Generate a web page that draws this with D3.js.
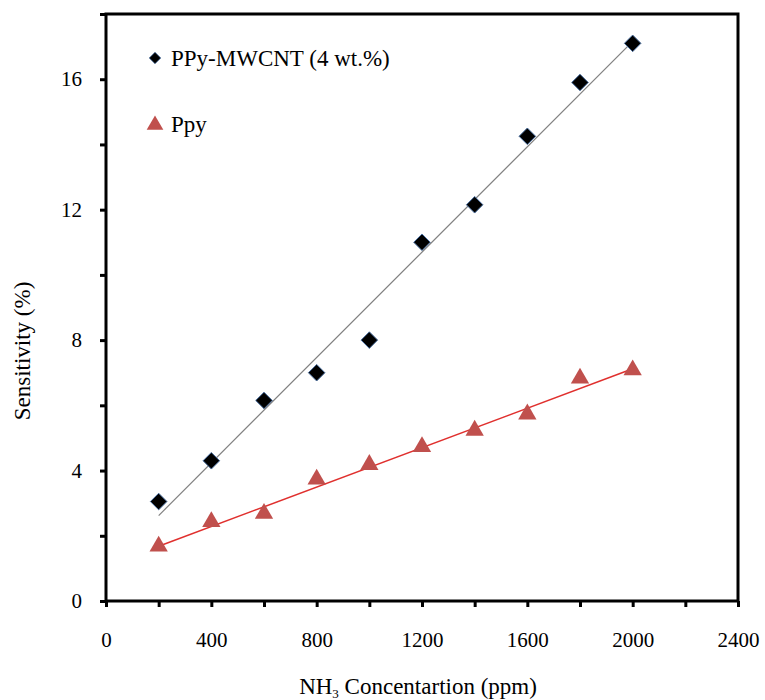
<!DOCTYPE html>
<html>
<head>
<meta charset="utf-8">
<script src="https://cdn.jsdelivr.net/npm/d3@7"></script>
<style>
  html, body { margin: 0; padding: 0; background: #fff; }
  svg text { font-family: "Liberation Serif", "DejaVu Serif", serif; fill: #000; }
</style>
</head>
<body>
<svg id="chart" width="765" height="700"></svg>
<script>
// NH3 concentration (ppm)
const concentrations = [200, 400, 600, 800, 1000, 1200, 1400, 1600, 1800, 2000];
// Sensitivity (%) for each film
const compositeSensitivity = [3.05, 4.3, 6.15, 7.0, 8.0, 11.0, 12.15, 14.25, 15.9, 17.1];
const ppySensitivity = [1.65, 2.4, 2.65, 3.7, 4.15, 4.7, 5.2, 5.7, 6.8, 7.05];
const seriesNames = ["PPy-MWCNT (4 wt.%)", "Ppy"];
const xTickValues = [0, 400, 800, 1200, 1600, 2000, 2400];
const yTickValues = [0, 4, 8, 12, 16];

const serif = "Liberation Serif, DejaVu Serif, serif";
const svg = d3.select("#chart");
const plotLeft = 106, plotRight = 738, plotTop = 14, plotBottom = 601;

const x = d3.scaleLinear().domain([0, 2400]).range([plotLeft, plotRight]);
const y = d3.scaleLinear().domain([0, 18]).range([plotBottom, plotTop]);

// Least-squares fit for each series' trend line
function fit(xs, ys) {
  const mx = d3.mean(xs), my = d3.mean(ys);
  let sxy = 0, sxx = 0;
  xs.forEach((v, i) => { sxy += (v - mx) * (ys[i] - my); sxx += (v - mx) * (v - mx); });
  const slope = sxy / sxx;
  return v => my + slope * (v - mx);
}

// Minor tick marks (every 200 ppm / every 2 %)
svg.append("g")
  .attr("transform", `translate(0,${plotBottom})`)
  .call(d3.axisBottom(x).tickValues(d3.range(0, 2401, 200)).tickSize(6).tickFormat(""))
  .call(a => a.select(".domain").remove())
  .call(a => a.selectAll("line").attr("stroke-width", 3));
svg.append("g")
  .attr("transform", `translate(${plotLeft},0)`)
  .call(d3.axisLeft(y).tickValues(d3.range(0, 18.1, 2)).tickSize(6).tickFormat(""))
  .call(a => a.select(".domain").remove())
  .call(a => a.selectAll("line").attr("stroke-width", 3));

// Labelled ticks
svg.append("g")
  .attr("transform", `translate(0,${plotBottom})`)
  .attr("font-family", serif)
  .call(d3.axisBottom(x).tickValues(xTickValues).tickSize(0).tickPadding(31).tickFormat(d3.format("d")))
  .call(a => a.select(".domain").remove())
  .call(a => a.selectAll("text").attr("font-size", 21).attr("font-family", serif));
svg.append("g")
  .attr("transform", `translate(${plotLeft},0)`)
  .attr("font-family", serif)
  .call(d3.axisLeft(y).tickValues(yTickValues).tickSize(0).tickPadding(24).tickFormat(d3.format("d")))
  .call(a => a.select(".domain").remove())
  .call(a => a.selectAll("text").attr("font-size", 21).attr("font-family", serif));

// Frame
svg.append("rect")
  .attr("x", plotLeft).attr("y", plotTop)
  .attr("width", plotRight - plotLeft).attr("height", plotBottom - plotTop)
  .attr("fill", "none").attr("stroke", "#000").attr("stroke-width", 3);

// Axis titles
const xt = svg.append("text")
  .attr("x", 418).attr("y", 694)
  .attr("text-anchor", "middle").attr("font-size", 23).attr("font-family", serif);
xt.append("tspan").text("NH");
xt.append("tspan").attr("font-size", 13).attr("dy", 4).text("3");
xt.append("tspan").attr("dy", -4).text(" Concentartion (ppm)");

svg.append("text")
  .attr("transform", "translate(30,351) rotate(-90)")
  .attr("text-anchor", "middle").attr("font-size", 23).attr("font-family", serif)
  .text("Sensitivity (%)");

// Trend lines
const xs0 = concentrations[0], xs1 = concentrations[concentrations.length - 1];
const f1 = fit(concentrations, compositeSensitivity);
const f2 = fit(concentrations, ppySensitivity);
svg.append("line")
  .attr("x1", x(xs0)).attr("y1", y(f1(xs0)))
  .attr("x2", x(xs1)).attr("y2", y(f1(xs1)))
  .attr("stroke", "#808080").attr("stroke-width", 1.2);
svg.append("line")
  .attr("x1", x(xs0)).attr("y1", y(f2(xs0)))
  .attr("x2", x(xs1)).attr("y2", y(f2(xs1)))
  .attr("stroke", "#e0302e").attr("stroke-width", 1.6);

// Markers
const diamond = d3.symbol().type(d3.symbolDiamond2).size(175);
const triangle = d3.symbol().type(d3.symbolTriangle).size(145);

svg.append("g").selectAll("path").data(concentrations).join("path")
  .attr("d", triangle)
  .attr("transform", (d, i) => `translate(${x(d)},${y(ppySensitivity[i]) - 1})`)
  .attr("fill", "#c0504d");

svg.append("g").selectAll("path").data(concentrations).join("path")
  .attr("d", diamond)
  .attr("transform", (d, i) => `translate(${x(d)},${y(compositeSensitivity[i])})`)
  .attr("fill", "#000").attr("stroke", "#4a6fa0").attr("stroke-width", 1);

// Legend
const legend = svg.append("g");
legend.append("path").attr("d", d3.symbol().type(d3.symbolDiamond2).size(85))
  .attr("transform", "translate(155,58)")
  .attr("fill", "#000").attr("stroke", "#4a6fa0").attr("stroke-width", 0.8);
legend.append("text").attr("x", 171).attr("y", 66).attr("font-size", 23).attr("font-family", serif).text(seriesNames[0]);
legend.append("path").attr("d", d3.symbol().type(d3.symbolTriangle).size(120))
  .attr("transform", "translate(155,125)")
  .attr("fill", "#c0504d");
legend.append("text").attr("x", 171).attr("y", 132).attr("font-size", 23).attr("font-family", serif).text(seriesNames[1]);
</script>
</body>
</html>
